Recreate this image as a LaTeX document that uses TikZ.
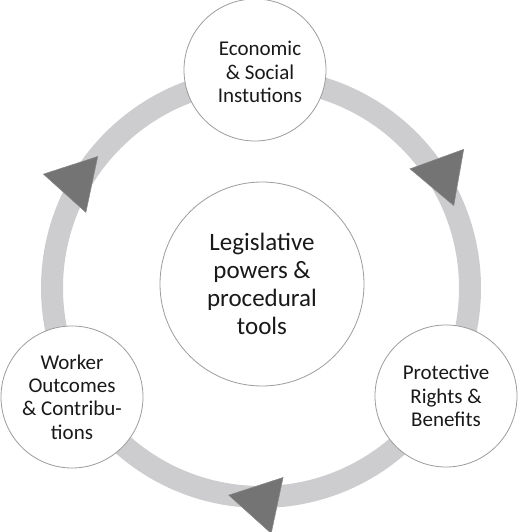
\documentclass[tikz,border=0pt]{standalone}
\usepackage{fontspec}
\setmainfont{Carlito}
\usetikzlibrary{calc}
\definecolor{ringgray}{HTML}{CDCDCF}
\definecolor{arrowgray}{HTML}{747474}
\definecolor{edgegray}{HTML}{9C9C9C}
\begin{document}
\begin{tikzpicture}[x=1pt,y=1pt,
  circ/.style={circle, draw=edgegray, line width=0.8pt, fill=white, minimum size=142pt, inner sep=0pt},
  bigcirc/.style={circ, minimum size=204pt},
  outertext/.style={align=center, font=\fontsize{21}{23.3}\selectfont, text=black!90},
  centertext/.style={align=center, font=\fontsize{25}{28}\selectfont, text=black!90},
  tri/.style={fill=arrowgray, draw=arrowgray!85!white, line width=0.5pt}]
\useasboundingbox (0,0) rectangle (520,532);
\coordinate (R) at (261,244);
\draw[ringgray, line width=22pt] (R) circle[radius=209pt];
\foreach \th in {32,150,270} {
  \path[tri, shift={($(R)+(\th:214)$)}, rotate=\th-102] (0:33) -- (120:33) -- (240:33) -- cycle;
}
\node[bigcirc, centertext] (center) at (262,248) {Legislative\\powers \&\\procedural\\tools};
\node[circ] (top) at (255,462) {};
\node[outertext] (toptext) at (260,460) {Economic\\\& Social\\Instutions};
\node[circ, outertext] (right) at (446,136) {Protective\\Rights \&\\Benefits};
\node[circ, outertext] (left) at (72,135) {Worker\\Outcomes\\\& Contribu-\\tions};
\end{tikzpicture}
\end{document}
